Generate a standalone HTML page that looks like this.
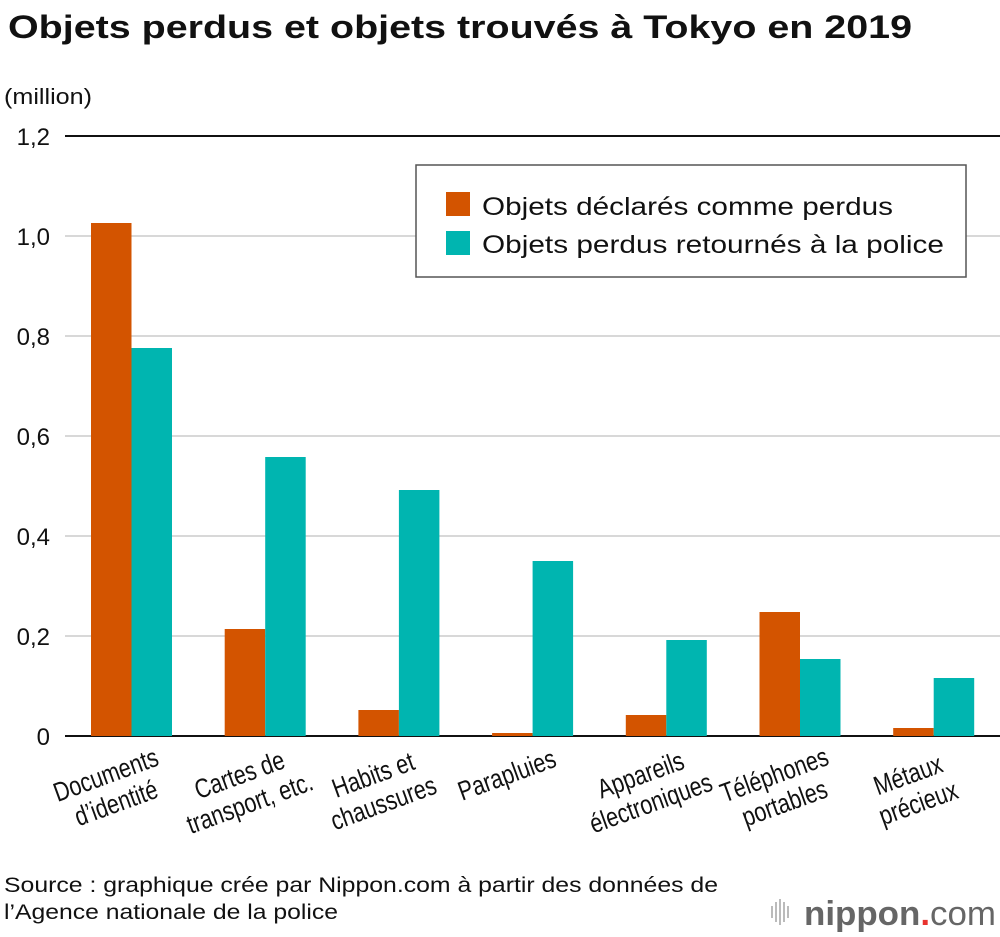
<!DOCTYPE html>
<html><head><meta charset="utf-8"><style>
body{margin:0;background:#fff;font-family:"Liberation Sans",sans-serif}
svg text{font-family:"Liberation Sans",sans-serif}
</style></head><body>
<svg id="chart" width="1000" height="932" viewBox="0 0 1000 932">
<text x="8" y="38" font-size="32" font-weight="bold" fill="#111" textLength="904" lengthAdjust="spacingAndGlyphs">Objets perdus et objets trouvés à Tokyo en 2019</text>
<text x="4" y="104" font-size="22" fill="#111" textLength="88" lengthAdjust="spacingAndGlyphs">(million)</text>
<g id="grid"></g>
<g id="bars"></g>
<g id="xlabels"></g>
<g>
<rect x="416" y="165" width="550" height="112" fill="#fff" stroke="#555" stroke-width="1.5"/>
<rect x="446" y="192" width="24" height="24" fill="#d35400"/>
<text x="482" y="215" font-size="25" fill="#111" textLength="411" lengthAdjust="spacingAndGlyphs">Objets déclarés comme perdus</text>
<rect x="446" y="231" width="24" height="24" fill="#00b5b0"/>
<text x="482" y="253" font-size="25" fill="#111" textLength="462" lengthAdjust="spacingAndGlyphs">Objets perdus retournés à la police</text>
</g>
<text x="4" y="892" font-size="21" fill="#111" textLength="714" lengthAdjust="spacingAndGlyphs">Source : graphique crée par Nippon.com à partir des données de</text>
<text x="4" y="919" font-size="21" fill="#111" textLength="334" lengthAdjust="spacingAndGlyphs">l’Agence nationale de la police</text>
<g>
<g fill="#bbb"><rect x="771" y="906" width="2" height="12"/><rect x="775" y="902" width="2" height="20"/><rect x="779" y="899" width="2" height="26"/><rect x="783" y="902" width="2" height="20"/><rect x="787" y="906" width="2" height="12"/></g>
<text x="804" y="925" font-size="34" font-weight="bold" fill="#666" textLength="192" lengthAdjust="spacingAndGlyphs">nippon<tspan fill="#e8322e">.</tspan><tspan font-weight="normal">com</tspan></text>
</g>
</svg>
<script>
const categories=[["Documents","d’identité"],["Cartes de","transport, etc."],["Habits et","chaussures"],["Parapluies"],["Appareils","électroniques"],["Téléphones","portables"],["Métaux","précieux"]];
const declared=[1.026,0.214,0.052,0.006,0.042,0.248,0.016];
const returned=[0.776,0.558,0.492,0.35,0.192,0.154,0.116];
const ticks=[0,0.2,0.4,0.6,0.8,1.0,1.2];
const tickLabels=["0","0,2","0,4","0,6","0,8","1,0","1,2"];
const NS="http://www.w3.org/2000/svg";
function y(v){return 736-v*500;}
function gx(i){return 91+i*133.7;}
const bw=40.5;
function mk(t,a,p){const e=document.createElementNS(NS,t);for(const k in a)e.setAttribute(k,a[k]);p.appendChild(e);return e;}
const grid=document.getElementById('grid');
ticks.forEach((t,i)=>{
 const strong=(i===0||i===ticks.length-1);
 const l=mk('line',{x1:65,x2:1000,y1:y(t),y2:y(t),stroke:strong?'#111':'#ccc','stroke-width':strong?2:1.5},grid);
 
 
 const tx=mk('text',{x:50,y:y(t)+9,'font-size':24,'text-anchor':'end',fill:'#111'},grid);
 tx.textContent=tickLabels[i];
 
 
});
const bars=document.getElementById('bars');
categories.forEach((c,i)=>{
 const b1=mk('rect',{x:gx(i),y:y(declared[i]),width:bw,height:736-y(declared[i]),fill:'#d35400'},bars);
 
 
 const b2=mk('rect',{x:gx(i)+bw,y:y(returned[i]),width:bw,height:736-y(returned[i]),fill:'#00b5b0'},bars);
 
 
 const cx=gx(i)+bw;
 const g=mk('g',{transform:`translate(${cx-26},${774}) rotate(-20) scale(0.8,1)`},document.getElementById('xlabels'));
 
 
 c.forEach((ln,j)=>{const t=mk('text',{x:0,y:10+j*30,'font-size':27,'text-anchor':'middle',fill:'#111'},g);t.textContent=ln;});
});
</script>
</body></html>
